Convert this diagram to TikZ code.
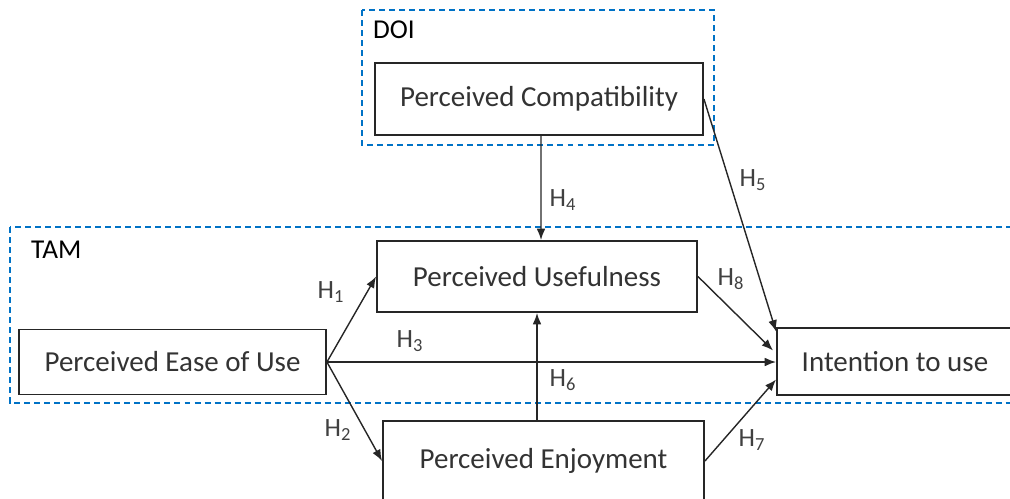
\documentclass[tikz,border=0pt]{standalone}
\usepackage{fontspec}
\usetikzlibrary{arrows.meta}
\setmainfont{Carlito}
\definecolor{frameblue}{RGB}{0,114,198}

\begin{document}
\begin{tikzpicture}[x=0.02cm,y=-0.02cm,
    box/.style={draw=black!85,line width=1.1pt,fill=white,text=black!80,
      font=\fontsize{16.5}{18}\selectfont,inner sep=0pt},
    frame/.style={draw=frameblue,dash pattern=on 3.4pt off 2.3pt,line width=0.8pt},
    hyp/.style={draw=black!85,line width=0.8pt,-{Latex[length=6.5pt,width=5pt]}},
    hlab/.style={font=\fontsize{15}{17}\selectfont,text=black!75},
    flab/.style={font=\fontsize{15.5}{17}\selectfont,anchor=west}]
    \useasboundingbox (0,0) rectangle (1010,498);
    % model frames
    \draw[frame] (362,10) rectangle (714,145);
    \node[flab] (doi) at (367,30) {DOI};
    \draw[frame] (10,227) rectangle (1016,403);
    \node[flab] (tam) at (25,250) {TAM};
    % constructs
    \node[box,minimum width=6.56cm,minimum height=1.44cm] (compat) at (539,99) {Perceived Compatibility};
    \node[box,minimum width=6.4cm,minimum height=1.42cm] (useful) at (537,276.5) {Perceived Usefulness};
    \node[box,minimum width=6.14cm,minimum height=1.3cm] (ease) at (172.5,362) {Perceived Ease of Use};
    \node[box,minimum width=4.72cm,minimum height=1.34cm] (intent) at (895,361.5) {Intention to use};
    \node[box,minimum width=6.42cm,minimum height=1.6cm] (enjoy) at (543.5,461) {Perceived Enjoyment};
    % hypotheses
    \draw[hyp] (ease.east) -- (useful.west);
    \draw[hyp] (ease.east) -- (enjoy.west);
    \draw[hyp] (ease.east) -- (ease.east -| intent.west);
    \draw[hyp] ([xshift=0.04cm]compat.south) -- ([xshift=0.08cm]useful.north);
    \draw[hyp] (compat.east) -- ([yshift=0.6cm]intent.west);
    \draw[hyp] (enjoy.north -| useful.south) -- (useful.south);
    \draw[hyp] (enjoy.east) -- ([yshift=-0.36cm]intent.west);
    \draw[hyp] (useful.east) -- ([xshift=-0.06cm,yshift=0.22cm]intent.west);
    \node[hlab] (h1) at (331,292) {H\textsubscript{1}};
    \node[hlab] (h2) at (338,430) {H\textsubscript{2}};
    \node[hlab] (h3) at (410,341) {H\textsubscript{3}};
    \node[hlab] (h4) at (563,200) {H\textsubscript{4}};
    \node[hlab] (h5) at (753,180) {H\textsubscript{5}};
    \node[hlab] (h6) at (563,380) {H\textsubscript{6}};
    \node[hlab] (h7) at (752,440) {H\textsubscript{7}};
    \node[hlab] (h8) at (731,279) {H\textsubscript{8}};
\end{tikzpicture}
\end{document}
